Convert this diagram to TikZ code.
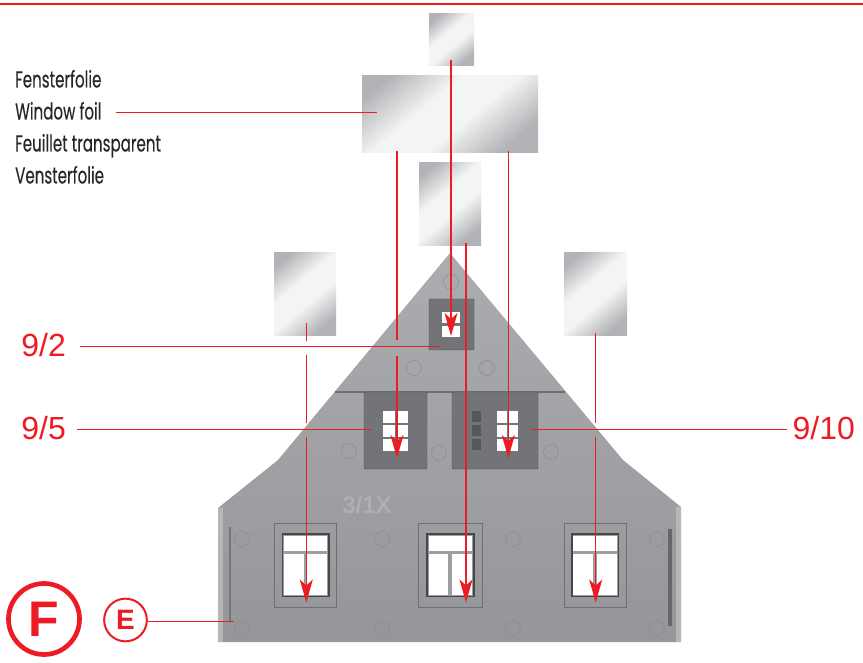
\documentclass[tikz,border=0pt]{standalone}
\usepackage{fontspec}
\setmainfont{Liberation Sans}
\newfontfamily\foilfont[FakeStretch=0.655,FakeBold=0.25]{Poppins}
\usetikzlibrary{arrows.meta}
\definecolor{markred}{HTML}{ED1C24}
\definecolor{wallgrey}{HTML}{9C9EA1}
\definecolor{panelgrey}{HTML}{737477}
\definecolor{foildark}{HTML}{B1B3B6}
\definecolor{foillight}{HTML}{F3F4F4}
\pgfdeclareverticalshading{foilshade}{100bp}{color(0bp)=(foildark); color(25bp)=(foildark); color(44bp)=(foillight); color(59bp)=(foillight); color(78bp)=(foildark); color(100bp)=(foildark)}
\tikzset{
	redline/.style={draw=markred,line width=1.25pt},
	redarrow/.style={redline,-{Stealth[length=23pt,width=13pt,inset=6pt]}},
	foil/.style={shading=foilshade,shading angle=40},
	panel/.style={fill=panelgrey,draw=panelgrey!70!black,line width=0.4pt,rounded corners=1pt},
	pane/.style={fill=white},
	casing/.style={draw=black!30!wallgrey,line width=1pt},
	stud/.style={draw=black!12!wallgrey,line width=0.5pt},
	foillabel/.style={anchor=base west,inner sep=0pt,text=black!85,font=\foilfont\fontsize{23}{23}\selectfont},
	redlabel/.style={inner sep=0pt,text=markred,font=\fontsize{32}{32}\selectfont},
}
\begin{document}
\begin{tikzpicture}[x=1pt,y=-1pt]
	\useasboundingbox (0,0) rectangle (863,663);
	\draw[redline] (0,4)--(863,4);
	% foils
	\shade[foil] (429,14) rectangle (474,66);
	\shade[foil] (362,76) rectangle (538,153);
	\shade[foil] (419,163) rectangle (481,246);
	\shade[foil] (274,253) rectangle (336,336);
	\shade[foil] (564,253) rectangle (627,336);
	% wall
	\shade[top color=wallgrey!85!white,bottom color=wallgrey!95!black] (450,253)--(278,460)--(218,508)--(218,642)--(681,642)--(681,507)--(623,460)--cycle;
	\fill[wallgrey!75!white] (218,508) rectangle (223,642);
	\fill[wallgrey!75!white] (676,507) rectangle (681,642);
	\fill[black!30!wallgrey] (335,391) rectangle (565,393);
	\fill[black!25!wallgrey] (229,527) rectangle (231,622);
	\fill[black!35!wallgrey] (667.5,529) rectangle (672,626);
	\node[text=wallgrey!82!white,inner sep=0pt,font=\bfseries\fontsize{24}{24}\selectfont] (cast) at (367,505) {3/1X};
	\foreach \P in {(451,282),(414,368),(487,368),(349,451),(439,453),(551,452),(242,539),(382,539),(513,539),(657,539),(242,628),(382,628),(513,628),(657,628)}
		\draw[stud] \P circle (7.5);
	% panels
	\draw[panel] (429,299) rectangle (474,350);
	\draw[panel] (364,392) rectangle (427,469);
	\draw[panel] (452,392) rectangle (538,469);
	\foreach \Y in {312,326} \fill[pane] (442.3,\Y) rectangle (460.3,\Y+11);
	\foreach \Y in {411,425,439} {
		\fill[pane] (383.3,\Y) rectangle (395,\Y+11.5);
		\fill[pane] (396.7,\Y) rectangle (408.3,\Y+11.5);
		\fill[pane] (497.3,\Y) rectangle (507,\Y+11.5);
		\fill[pane] (509,\Y) rectangle (518.3,\Y+11.5);
		\fill[black!25!panelgrey] (472,\Y) rectangle (481,\Y+11);
	}
	% windows
	\foreach \X/\W in {274/62.7,418.7/63.3,564.7/62} \draw[casing] (\X,523.5) rectangle (\X+\W,607);
	\foreach \X in {282.3,427,571.7} {
		\draw[draw=black!55!wallgrey,fill=wallgrey,line width=1.6pt] (\X,534) rectangle (\X+46.7,596.5);
		\fill[pane] (\X+1.7,536) rectangle (\X+45,550.5);
		\fill[pane] (\X+1.7,553.5) rectangle (\X+21.3,594.5);
		\fill[pane] (\X+25,553.5) rectangle (\X+45,594.5);
	}
	% red connectors
	\coordinate (F1) at (451,60);
	\coordinate (F1a) at (451,336);
	\coordinate (F2) at (397,151);
	\coordinate (F2b) at (397,340);
	\coordinate (F2c) at (397,356);
	\coordinate (F2a) at (397,458);
	\coordinate (F3) at (508.3,151);
	\coordinate (F3a) at (508.3,458);
	\coordinate (F4) at (466,243);
	\coordinate (F4a) at (466,602.5);
	\coordinate (F5) at (306.3,323);
	\coordinate (F5b) at (306.3,341);
	\coordinate (F5c) at (306.3,355);
	\coordinate (F5d) at (306.3,422.5);
	\coordinate (F5e) at (306.3,436.5);
	\coordinate (F5a) at (306.3,602.5);
	\coordinate (F6) at (595.7,333);
	\coordinate (F6d) at (595.7,422.5);
	\coordinate (F6e) at (595.7,436.5);
	\coordinate (F6a) at (595.7,602.5);
	\draw[redarrow] (F1)--(F1a);
	\draw[redline] (F2)--(F2b);
	\draw[redarrow] (F2c)--(F2a);
	\draw[redarrow] (F3)--(F3a);
	\draw[redarrow] (F4)--(F4a);
	\draw[redline] (F5)--(F5b);
	\draw[redline] (F5c)--(F5d);
	\draw[redarrow] (F5e)--(F5a);
	\draw[redline] (F6)--(F6d);
	\draw[redarrow] (F6e)--(F6a);
	% labels
	\node[foillabel] (fenster) at (15,87.5) {Fensterfolie};
	\node[foillabel] (window) at (15,119.5) {Window foil};
	\node[foillabel] (feuillet) at (15,151.5) {Feuillet transparent};
	\node[foillabel] (venster) at (15,183.5) {Vensterfolie};
	\coordinate (foilend) at (376.7,112.7);
	\draw[redline] ([xshift=14pt]window.east |- foilend)--(foilend);
	\node[redlabel,anchor=base east] (nine2) at (66,356.7) {9/2};
	\node[redlabel,anchor=base east] (nine5) at (66,439) {9/5};
	\node[redlabel,anchor=base west] (nine10) at (792.5,439) {9/10};
	\coordinate (nine2end) at (440,346.3);
	\coordinate (nine5end) at (371.7,429.3);
	\coordinate (nine10end) at (531,429.5);
	\draw[redline] ([xshift=13.7pt]nine2.east |- nine2end)--(nine2end);
	\draw[redline] ([xshift=11.3pt]nine5.east |- nine5end)--(nine5end);
	\draw[redline] ([xshift=-6pt]nine10.west |- nine10end)--(nine10end);
	\node[circle,draw=markred,line width=4.7pt,minimum size=71pt,inner sep=0pt,text=markred,font=\bfseries\fontsize{50}{50}\selectfont] (bigF) at (44,619) {F};
	\node[circle,draw=markred,line width=2pt,minimum size=42.7pt,inner sep=0pt,text=markred,font=\bfseries\fontsize{28}{28}\selectfont] (smallE) at (125.5,620) {E};
	\coordinate (E1) at (234,621.3);
	\draw[redline,line width=0.8pt] (smallE.east |- E1)--(E1);
\end{tikzpicture}
\end{document}
